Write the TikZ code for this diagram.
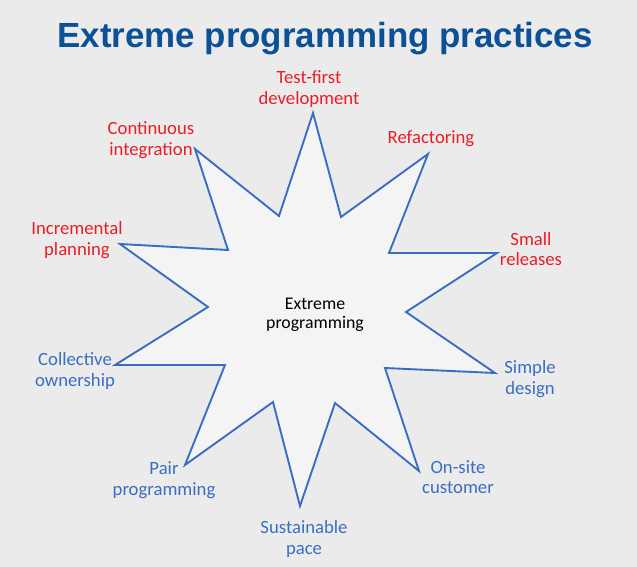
\documentclass[tikz,border=0pt]{standalone}
\usepackage{fontspec}
\setmainfont{Carlito}
\newfontfamily\titlefont{Liberation Sans}
\definecolor{bgcol}{RGB}{235,235,235}
\definecolor{starfill}{RGB}{244,244,244}
\definecolor{starline}{RGB}{58,110,194}
\definecolor{labred}{RGB}{232,30,40}
\definecolor{labblue}{RGB}{58,110,194}
\definecolor{titlecol}{RGB}{12,80,150}
\begin{document}
\begin{tikzpicture}[x=1pt,y=-1pt,
  lab/.style={inner sep=0pt, align=center, font=\fontsize{18.7}{20.5}\selectfont},
  redlab/.style={lab, text=labred},
  bluelab/.style={lab, text=labblue},
  starshape/.style={draw=starline, fill=starfill, line width=1.9pt, line join=miter}]
\fill[bgcol] (0,0) rectangle (637,567);
\useasboundingbox (0,0) rectangle (637,567);
% star
\coordinate (t1) at (313,113);
\coordinate (i1) at (341,217);
\coordinate (t2) at (428,154);
\coordinate (i2) at (389,253);
\coordinate (t3) at (497,253);
\coordinate (i3) at (406,312);
\coordinate (t4) at (495,373);
\coordinate (i4) at (385,368);
\coordinate (t5) at (419,471);
\coordinate (i5) at (335,403);
\coordinate (t6) at (300,506);
\coordinate (i6) at (273,402);
\coordinate (t7) at (185,465);
\coordinate (i7) at (225,365);
\coordinate (t8) at (115,365);
\coordinate (i8) at (208,307);
\coordinate (t9) at (120,244);
\coordinate (i9) at (228,250);
\coordinate (t10) at (195,149);
\coordinate (i10) at (279,216);
\draw[starshape] (t1) -- (i1) -- (t2) -- (i2) -- (t3) -- (i3) -- (t4) -- (i4) -- (t5) -- (i5) -- (t6) -- (i6) -- (t7) -- (i7) -- (t8) -- (i8) -- (t9) -- (i9) -- (t10) -- (i10) -- cycle;
% title
\node[inner sep=0pt, anchor=base, text=titlecol, font=\titlefont\bfseries\fontsize{34.9}{40}\selectfont] (title) at (325,47.5) {Extreme programming practices};
% centre
\node[lab, font=\fontsize{17.8}{19.5}\selectfont] (centre) at (315,315) {Extreme\\programming};
% labels
\node[redlab] (test) at (309,89) {Test-first\\development};
\node[redlab] (refac) at (431,139) {Refactoring};
\node[redlab] (small) at (531,249) {Small\\releases};
\node[bluelab] (simple) at (530,379) {Simple\\design};
\node[bluelab] (onsite) at (458,477) {On-site\\customer};
\node[bluelab] (sust) at (304,539) {Sustainable\\pace};
\node[bluelab] (pair) at (164,480) {Pair\\programming};
\node[bluelab] (coll) at (75,371) {Collective\\ownership};
\node[redlab] (incr) at (77,240) {Incremental\\planning};
\node[redlab] (cont) at (151,140) {Continuous\\integration};
\end{tikzpicture}
\end{document}
